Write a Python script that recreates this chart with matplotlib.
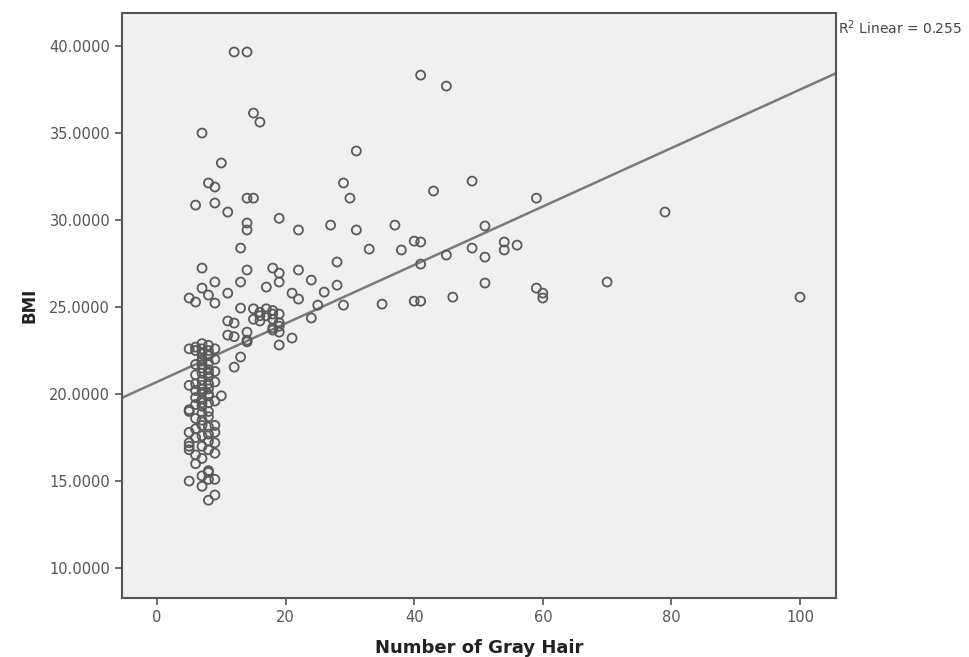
import matplotlib
matplotlib.use("Agg")
from matplotlib import pyplot as plt
from matplotlib.ticker import FormatStrFormatter

# 数据：灰发数量 与 BMI
gray_hair = [
    12, 14, 15, 16, 7, 41, 45, 10, 31, 8, 9, 29, 49, 43, 30, 14, 15, 59, 6, 9,
    11, 19, 14, 14, 27, 22, 31, 37, 51, 13, 33, 38, 40, 41, 49, 54, 54, 56, 45, 51,
    28, 41, 7, 14, 18, 19, 19, 22, 9, 13, 24, 70, 51, 7, 17, 26, 28, 59, 60, 60,
    5, 6, 8, 11, 21, 22, 25, 29, 35, 40, 41, 46, 79, 100, 9,
    13, 15, 15, 16, 16, 17, 17, 18, 18, 19, 19, 16, 18, 24, 12, 11, 14, 14, 18, 19,
    21, 19, 13, 12, 11, 12, 14, 18, 19,
    5, 5, 5, 5, 5, 5, 5, 5, 5,
    6, 6, 6, 6, 6, 6, 6, 6, 6, 6, 6, 6, 6,
    7, 7, 7, 7, 7, 7, 7, 7, 7, 7, 7, 7, 7, 7, 7, 7, 7, 7, 7, 7, 7, 7, 7,
    8, 8, 8, 8, 8, 8, 8, 8, 8, 8, 8, 8, 8, 8, 8, 8, 8, 8, 8, 8, 8, 8,
    9, 9, 9, 9, 9, 9, 9, 9, 9, 9, 9, 10,
]
bmi = [
    39.66, 39.66, 36.15, 35.63, 35.00, 38.33, 37.70, 33.28, 33.97, 32.13, 31.90, 32.13, 32.24, 31.67, 31.26, 31.26, 31.26, 31.26, 30.86, 30.98,
    30.46, 30.10, 29.83, 29.43, 29.71, 29.43, 29.43, 29.71, 29.66, 28.39, 28.33, 28.28, 28.79, 28.74, 28.39, 28.74, 28.28, 28.56, 27.99, 27.87,
    27.59, 27.47, 27.24, 27.13, 27.24, 26.95, 26.44, 27.13, 26.44, 26.44, 26.55, 26.44, 26.38, 26.09, 26.15, 25.86, 26.26, 26.09, 25.80, 25.52,
    25.52, 25.29, 25.69, 25.80, 25.80, 25.46, 25.11, 25.11, 25.17, 25.34, 25.34, 25.57, 30.46, 25.57, 25.23,
    24.94, 24.90, 24.30, 24.70, 24.20, 24.90, 24.50, 24.80, 24.30, 24.60, 24.10, 24.50, 24.60, 24.37, 24.08, 23.39, 23.56, 23.10, 23.68, 23.56,
    23.22, 22.82, 22.13, 21.55, 24.20, 23.30, 23.00, 23.80, 23.90,
    22.60, 20.50, 19.10, 19.00, 17.80, 17.20, 17.00, 16.80, 15.00,
    22.50, 21.70, 20.20, 19.80, 18.00, 17.50, 16.50, 16.00, 22.70, 21.10, 20.60, 19.40, 18.60,
    22.90, 22.30, 21.90, 21.50, 21.20, 20.80, 20.50, 20.10, 19.70, 19.30, 18.90, 18.50, 17.60, 17.00, 16.30, 14.70, 15.30, 22.00,
    22.60, 21.70, 20.30, 19.50, 18.20,
    22.80, 22.20, 21.80, 21.40, 21.00, 20.60, 20.30, 19.90, 19.50, 19.00, 18.70, 18.10, 17.30, 16.80, 15.50, 15.10, 13.90, 15.60,
    22.50, 21.20, 20.00, 17.70,
    22.00, 21.30, 20.70, 19.60, 18.20, 17.80, 17.20, 16.60, 15.10, 14.20, 22.60, 19.90,
]

# 拟合线
fit_intercept = 20.7
fit_slope = 0.168
r2_label = "R$^2$ Linear = 0.255"

x_ticks = [0, 20, 40, 60, 80, 100]
y_ticks = [10, 15, 20, 25, 30, 35, 40]

fig = plt.figure(figsize=(9.70, 6.57), dpi=100)
ax = fig.add_axes([0.1258, 0.0898, 0.7361, 0.8904])
ax.set_facecolor("#f0f0f0")

ax.scatter(gray_hair, bmi, s=42, facecolors="none", edgecolors="#5a5a5a", linewidths=1.3, zorder=3)

x_min, x_max = -5.44, 105.6
ax.plot([x_min, x_max], [fit_intercept + fit_slope * x_min, fit_intercept + fit_slope * x_max],
        color="#7a7a7a", lw=1.8, zorder=2)

ax.set_xlim(x_min, x_max)
ax.set_ylim(8.28, 41.9)
ax.set_xticks(x_ticks)
ax.set_yticks(y_ticks)
ax.yaxis.set_major_formatter(FormatStrFormatter("%.4f"))

for s in ax.spines.values():
    s.set_color("#555555")
    s.set_linewidth(1.5)
ax.tick_params(direction="out", length=5, width=1.2, color="#555555",
               labelcolor="#555555", labelsize=10.5)

ax.set_xlabel("Number of Gray Hair", fontsize=13, fontweight="bold", color="#222222", labelpad=10)
ax.set_ylabel("BMI", fontsize=12, fontweight="bold", color="#222222", labelpad=8)

fig.text(838 / 970, 1 - 28 / 657, r2_label, fontsize=10, color="#444444", ha="left", va="center")

plt.savefig("out.png", dpi=100)
